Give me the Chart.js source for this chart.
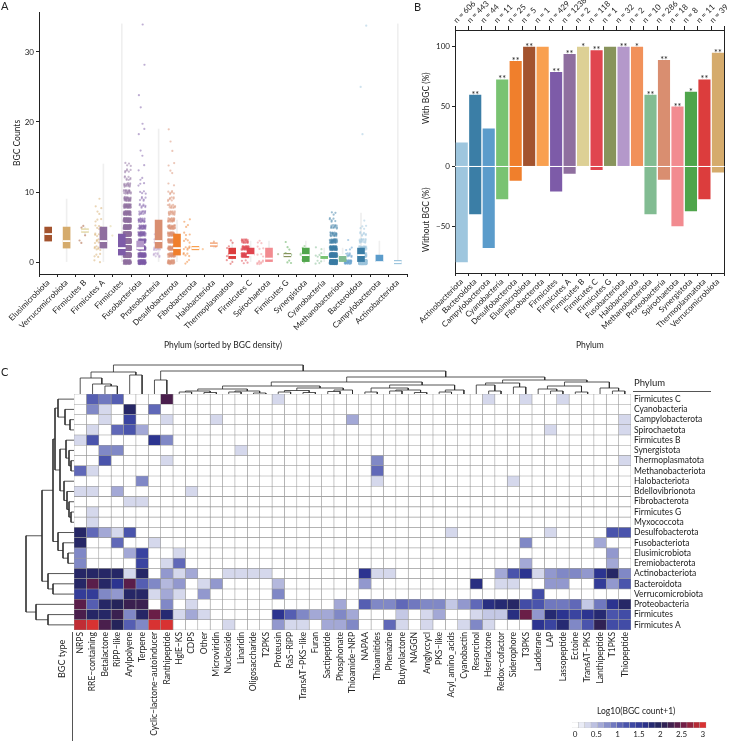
<!DOCTYPE html>
<html>
<head>
<meta charset="utf-8">
<script src="https://cdn.jsdelivr.net/npm/chart.js@4.4.1/dist/chart.umd.min.js"></script>
<style>
body{margin:0;background:#fff;}
#fig{position:relative;width:735px;height:741px;overflow:hidden;font-family:Lato,sans-serif;color:#222;}
#fig canvas{position:absolute;}
.lbl{position:absolute;white-space:nowrap;line-height:1;}
</style>
</head>
<body>
<div id="fig">
  <canvas id="chartA" width="415" height="360" style="left:0;top:0"></canvas>
  <canvas id="chartB" width="320" height="360" style="left:415px;top:0"></canvas>
  <canvas id="colDendro" width="557" height="34" style="left:74px;top:361px"></canvas>
  <canvas id="rowDendro" width="56" height="236" style="left:20px;top:394px"></canvas>
  <canvas id="heat" width="735" height="356" style="left:0;top:385px"></canvas>
  <canvas id="heatLegend" width="150" height="25" style="left:565px;top:716px"></canvas>

  <div class="lbl" style="left:1px;top:0;font-size:11px">A</div>
  <div class="lbl" style="left:414px;top:1px;font-size:11px">B</div>
  <div class="lbl" style="left:1px;top:366px;font-size:11px">C</div>
  <div class="lbl" style="left:634px;top:378px;font-size:9.5px">Phylum</div>
  <div style="position:absolute;left:633px;top:391px;width:78px;border-top:1px solid #555"></div>
  <div class="lbl" style="left:57px;top:678px;font-size:9px;transform-origin:0 0;transform:rotate(-90deg)">BGC type</div>
  <div style="position:absolute;left:72px;top:632px;height:109px;border-left:1px solid #555"></div>
  <div class="lbl" style="left:597px;top:707px;font-size:8.5px">Log10(BGC count+1)</div>
</div>
<script>
// ---------- panel A: BGC counts per genome ----------
const phylaA = ['Elusimicrobiota', 'Verrucomicrobiota', 'Firmicutes B', 'Firmicutes A', 'Firmicutes',
  'Fusobacteriota', 'Proteobacteria', 'Desulfobacterota', 'Fibrobacterota', 'Halobacteriota',
  'Thermoplasmatota', 'Firmicutes C', 'Spirochaetota', 'Firmicutes G', 'Synergistota',
  'Cyanobacteria', 'Methanobacteriota', 'Bacteroidota', 'Campylobacterota', 'Actinobacteriota'];

// [BGC count, number of genomes] per phylum
const countFreqA = [
  [[3, 2], [4, 1], [5, 2]],
  [[0, 2], [1, 4], [2, 7], [3, 7], [4, 6], [5, 5], [6, 3], [7, 2], [8, 2], [9, 1]],
  [[4, 1], [5, 1]],
  [[0, 74], [1, 180], [2, 220], [3, 200], [4, 160], [5, 120], [6, 90], [7, 60], [8, 45], [9, 30], [10, 20], [11, 15], [12, 8], [13, 6], [14, 4]],
  [[0, 90], [1, 80], [2, 70], [3, 55], [4, 40], [5, 30], [6, 20], [7, 12], [8, 8], [9, 6], [10, 4], [11, 3], [12, 2], [13, 1], [14, 1], [15, 1], [16, 1], [18, 1], [19, 1], [20, 1], [22, 1], [24, 1], [28, 1], [34, 1]],
  [[1, 8], [2, 12], [3, 8], [4, 3], [5, 1]],
  [[0, 31], [1, 35], [2, 40], [3, 40], [4, 35], [5, 30], [6, 22], [7, 16], [8, 12], [9, 8], [10, 6], [11, 2], [13, 2], [14, 2], [16, 1], [17, 1], [19, 1]],
  [[0, 3], [1, 5], [2, 6], [3, 4], [4, 3], [5, 2], [6, 2]],
  [[2, 1]],
  [[2, 1], [3, 1]],
  [[0, 3], [1, 4], [2, 2], [3, 2]],
  [[0, 4], [1, 60], [2, 34], [3, 20]],
  [[0, 9], [1, 3], [2, 3], [3, 3]],
  [[1, 1]],
  [[0, 3], [1, 2], [2, 2], [3, 1]],
  [[0, 3], [1, 6], [2, 2]],
  [[0, 4], [1, 4], [2, 2]],
  [[0, 177], [1, 120], [2, 70], [3, 35], [4, 20], [5, 12], [6, 6], [7, 3]],
  [[0, 30], [1, 10], [2, 3], [3, 1]],
  [[0, 485], [1, 60], [2, 30], [3, 15], [4, 8], [5, 4], [6, 1], [18, 1], [25, 1], [34, 1]]
];
const ticksA = [0, 10, 20, 30];

// ---------- panel B: share of genomes with / without BGC ----------
const phylaB = ['Actinobacteriota', 'Bacteroidota', 'Campylobacterota', 'Cyanobacteria', 'Desulfobacterota',
  'Elusimicrobiota', 'Fibrobacterota', 'Firmicutes', 'Firmicutes A', 'Firmicutes B', 'Firmicutes C',
  'Firmicutes G', 'Fusobacteriota', 'Halobacteriota', 'Methanobacteriota', 'Proteobacteria',
  'Spirochaetota', 'Synergistota', 'Thermoplasmatota', 'Verrucomicrobiota'];
const genomesB = [606, 443, 44, 11, 25, 5, 1, 429, 1238, 2, 118, 1, 32, 2, 10, 286, 18, 8, 11, 39];
const withPct = [20, 60, 31.8, 72.7, 88, 100, 100, 79, 94, 100, 97, 100, 100, 100, 60, 89, 50, 62.5, 72.7, 94.9];
const withoutPct = [80, 40, 68.2, 27.3, 12, 0, 0, 21, 6, 0, 3, 0, 0, 0, 40, 11, 50, 37.5, 27.3, 5.1];
const starsB = ['', '**', '', '**', '**', '**', '', '**', '**', '*', '**', '', '**', '*', '**', '**', '**', '*', '**', '**'];
const ticksB = [-50, 0, 50, 100];

const phylumColor = {
  'Actinobacteriota': '#9ec6de', 'Bacteroidota': '#3b7ea6', 'Campylobacterota': '#5b9ccb',
  'Cyanobacteria': '#79c372', 'Desulfobacterota': '#f07f2c', 'Elusimicrobiota': '#a3532e',
  'Fibrobacterota': '#f9a050', 'Firmicutes': '#7d5ba8', 'Firmicutes A': '#8f6f9f',
  'Firmicutes B': '#ddd095', 'Firmicutes C': '#e0454f', 'Firmicutes G': '#88945c',
  'Fusobacteriota': '#b498ca', 'Halobacteriota': '#f1915a', 'Methanobacteriota': '#82bc92',
  'Proteobacteria': '#d98e70', 'Spirochaetota': '#f28b90', 'Synergistota': '#4fa54b',
  'Thermoplasmatota': '#dc3d3d', 'Verrucomicrobiota': '#d5ab6c'
};

// ---------- panel C: heatmap log10(BGC count + 1) ----------
const heatRows = ['Firmicutes C', 'Cyanobacteria', 'Campylobacterota', 'Spirochaetota', 'Firmicutes B',
  'Synergistota', 'Thermoplasmatota', 'Methanobacteriota', 'Halobacteriota', 'Bdellovibrionota',
  'Fibrobacterota', 'Firmicutes G', 'Myxococcota', 'Desulfobacterota', 'Fusobacteriota',
  'Elusimicrobiota', 'Eremiobacterota', 'Actinobacteriota', 'Bacteroidota', 'Verrucomicrobiota',
  'Proteobacteria', 'Firmicutes', 'Firmicutes A'];
const bgcTypes = ['NRPS', 'RRE−containing', 'Betalactone', 'RiPP−like', 'Arylpolyene', 'Terpene',
  'Cyclic−lactone−autoinducer', 'Ranthipeptide', 'HglE−KS', 'CDPS', 'Other', 'Microviridin',
  'Nucleoside', 'Linaridin', 'Oligosaccharide', 'T2PKS', 'Proteusin', 'RaS−RiPP', 'TransAT−PKS−like',
  'Furan', 'Sactipeptide', 'Phosphonate', 'Thioamide−NRP', 'NAPAA', 'Thioamitides', 'Phenazine',
  'Butyrolactone', 'NAGGN', 'Amglyccycl', 'PKS−like', 'Acyl_amino_acids', 'Cyanobactin', 'Resorcinol',
  'Hserlactone', 'Redox−cofactor', 'Siderophore', 'T3PKS', 'Ladderane', 'LAP', 'Lassopeptide',
  'Ectoine', 'TransAT−PKS', 'Lanthipeptide', 'T1PKS', 'Thiopeptide'];
const heatValues = [
  [0,1.1,.9,1.1,0, 0,0,2.3,0,0, 0,0,0,0,0, 0,.3,0,0,0, 0,0,0,0,0, 0,0,0,0,0, 0,0,0,.3,0, 0,.3,0,0,.3, 0,0,0,0,0],
  [0,.8,.3,0,1.9, 0,1,0,0,0, 0,0,0,0,0, 0,0,0,0,0, 0,0,0,0,0, 0,0,0,0,0, 0,0,0,0,0, 0,0,0,0,0, 0,0,0,0,0],
  [0,0,.3,0,1.4, 0,0,.3,0,0, 0,.3,0,0,0, 0,0,0,0,0, 0,0,.6,0,0, 0,0,0,0,0, 0,0,0,0,0, 0,0,0,0,0, 0,0,0,0,.3],
  [0,.3,0,1,1.2, .6,0,0,0,0, 0,0,0,0,0, 0,0,0,0,0, 0,0,0,0,0, 0,0,0,0,0, 0,0,0,0,0, 0,0,0,.3,0, 0,0,0,0,.3],
  [.3,1.2,0,0,0, 0,1.6,.8,0,0, 0,0,0,0,0, 0,0,0,0,0, 0,0,0,0,0, 0,0,0,0,0, 0,0,0,0,0, 0,0,0,0,0, 0,0,0,0,0],
  [0,0,.8,.8,0, 0,0,0,0,0, 0,0,0,.3,0, 0,0,0,0,0, 0,0,0,0,0, 0,0,0,0,0, 0,0,0,0,0, 0,0,0,0,0, 0,0,0,0,0],
  [0,0,1.2,0,0, 0,0,.3,0,0, 0,0,0,0,0, 0,0,0,0,0, 0,0,0,0,.8, 0,0,0,0,0, 0,0,0,0,0, 0,0,0,0,0, 0,0,0,0,.3],
  [1,.3,0,0,0, 0,0,0,0,0, 0,0,0,0,0, 0,0,0,0,0, 0,0,0,0,1, 0,0,0,0,0, 0,0,0,0,0, 0,0,0,0,0, 0,0,0,0,0],
  [0,0,0,0,0, .8,0,0,0,0, 0,0,0,0,0, 0,0,0,0,0, 0,0,0,0,.3, 0,0,0,0,0, 0,0,0,0,0, .3,0,0,0,0, 0,0,0,0,0],
  [.3,.3,0,.6,0, 0,0,0,0,.3, 0,0,0,0,0, 0,0,0,0,0, 0,0,0,0,0, 0,0,0,0,0, 0,0,0,0,0, 0,0,0,0,0, 0,0,0,0,0],
  [0,0,0,0,.3, .3,0,0,0,0, 0,0,0,0,0, 0,0,0,0,0, 0,0,0,0,0, 0,0,0,0,0, 0,0,0,0,0, 0,0,0,0,0, 0,0,0,0,0],
  [0,.3,0,0,0, 0,0,0,0,0, 0,0,0,0,0, 0,0,0,0,0, 0,0,0,0,0, 0,0,0,0,0, 0,0,0,0,0, 0,0,0,0,0, 0,0,0,0,0],
  [0,.3,0,0,0, 0,0,0,0,0, 0,0,0,0,0, 0,0,0,0,0, 0,0,0,0,0, 0,0,0,0,0, 0,0,0,0,0, 0,0,0,0,0, 0,0,0,0,0],
  [1.9,1,.6,.3,1.2, 0,0,0,0,0, 0,0,0,0,0, 0,0,0,0,0, 0,0,0,0,0, 0,0,0,0,0, .3,0,0,0,0, 0,0,0,.3,0, 0,0,0,1.2,1.2],
  [1.9,0,0,1,0, 0,.3,0,0,0, 0,0,0,0,0, 0,0,0,0,0, 0,0,0,0,0, 0,0,0,0,0, 0,0,0,0,0, 0,.8,0,0,0, 0,0,.6,0,0],
  [.8,0,0,0,.6, 1.4,0,0,.3,0, 0,0,0,0,0, 0,0,0,0,0, 0,0,0,0,0, 0,0,0,0,0, 0,0,0,0,0, 0,0,0,0,0, 0,0,0,.7,0],
  [.8,0,0,0,0, 1.4,0,.3,1,0, 0,0,0,0,0, 0,0,0,0,0, 0,0,0,0,0, 0,0,0,0,0, 0,0,0,0,0, 0,.6,0,0,0, 0,0,0,.6,0],
  [1.9,1.9,1.9,1.9,.3, 1.9,0,.7,.3,.6, 0,0,.3,.3,.3, .3,0,0,0,0, 0,0,0,1.6,.3, .3,0,0,0,0, 0,0,0,0,.6, 1.2,1.6,.3,.7,.8, .8,.7,1.6,1.9,.8],
  [1.9,2.4,1.9,1.6,2.4, 1.1,.8,.5,.7,0, .3,.7,0,0,0, 0,.5,0,0,0, 0,0,0,.7,0, 0,0,0,0,0, 0,0,1.7,0,.3, .3,0,0,.7,.7, 0,0,1.5,.7,1.2],
  [1.5,1.5,.8,.7,1.9, 1.9,.3,.6,.3,0, .7,0,0,0,0, 0,.8,0,0,0, 0,0,0,0,0, 0,0,0,0,0, 0,0,0,0,0, 0,0,1.3,0,0, 0,0,0,0,0],
  [2.4,1.1,1.9,2,2.2, 2.2,0,.8,0,.3, 0,0,0,0,0, 0,0,0,0,0, 0,.6,0,1.1,.8, .8,1,.9,.8,.8, .4,.7,1,1.7,1.8, 1.9,1.3,1.2,.9,.9, 1,.4,.9,1.6,1.9],
  [2.3,1.9,1.9,2.2,.8, 1.9,2.5,1.8,.3,.6, .3,0,0,0,0, 0,1.6,1.1,.8,.6, .6,.8,.6,0,0, 0,.4,0,.3,.6, 0,0,.3,.4,.4, 1.7,2.5,.7,1.8,1.6, 1.4,1.6,1.8,1.2,1.3],
  [2.9,3,2.3,2,1.1, .8,3,3,0,0, 0,0,.3,0,0, 0,.7,.3,.3,0, .6,.6,.8,0,0, 1,.3,0,.3,0, 0,.3,.8,.3,0, 0,0,1.6,1.4,1.8, .8,1.2,2.1,1.3,1.3]
];

// dendrograms: [merge height, left, right], leaves are row / column indexes
const rowTree =
  [48,
    [32,
      [21,
        [19,
          [16, 0, [9, 1, [4, 2, 3]]],
          [14, [8, 4, [5, 5, [3, 6, 7]]], [10, 8, [7, 9, [5, 10, [3, 11, 12]]]]]],
        [16, 13, [11, 14, [6, 15, 16]]]],
      [26, 17, [21, 18, 19]]],
    [38, 20, [26, 21, 22]]];
const colTree =
  [29,
    [22, [16, 0, [10, 1, [8, 2, 3]]], [19, 4, 5]],
    [23,
      [14, 6, 7],
      [17,
        [12,
          [8, [5, [3, [2, 8, 9], [1.5, 10, 11]], [3, [2, 12, 13], [1, 14, 15]]],
              [6, [3.5, [2, 16, 17], [1.5, 18, 19]], [4, [2.5, 20, 21], 22]]],
          [9, [6, [2, 23, 24], [4, [3, 25, 26], [1.5, 27, 28]]], [4, [2, 29, 30], 31]]],
        [14,
          [11, [9, 32, [3, 33, 34]], [7, 35, 36]],
          [12, [8, [5, 37, [3, 38, 39]], [2, 40, 41]], [6, 42, [3, 43, 44]]]]]]];

const heatStops = [
  [0, '#ffffff'], [0.3, '#d5d8ec'], [0.6, '#a3a8d6'], [0.8, '#8088c6'], [1.0, '#6068b8'],
  [1.2, '#4a54ac'], [1.4, '#3a44a0'], [1.6, '#2c3490'], [1.8, '#262a72'], [2.0, '#25245a'],
  [2.2, '#3a2050'], [2.4, '#5a1e4a'], [2.6, '#7a1e44'], [2.8, '#a82838'], [3.0, '#d83232']
];
const legendSteps = [0, 0.15, 0.3, 0.45, 0.6, 0.75, 0.9, 1.05, 1.2, 1.35, 1.5, 1.65, 1.8, 1.95, 2.1, 2.25, 2.4, 2.55, 2.7, 2.85, 3.0];
const legendTicks = [0, 0.5, 1, 1.5, 2, 2.5, 3];

Chart.defaults.font.family = 'Lato, sans-serif';
Chart.defaults.font.size = 8;
Chart.defaults.color = '#222';
Chart.defaults.animation = false;
Chart.defaults.events = [];
Chart.defaults.plugins.legend.display = false;
Chart.defaults.plugins.tooltip.enabled = false;

function hexA(hex, a) {
  const n = parseInt(hex.slice(1), 16);
  return `rgba(${n >> 16}, ${(n >> 8) & 255}, ${n & 255}, ${a})`;
}

function heatColor(v) {
  for (let i = 1; i < heatStops.length; i++) {
    if (v <= heatStops[i][0]) {
      const [v0, c0] = heatStops[i - 1], [v1, c1] = heatStops[i];
      const t = (v - v0) / (v1 - v0);
      const a = parseInt(c0.slice(1), 16), b = parseInt(c1.slice(1), 16);
      const mix = s => Math.round(((a >> s) & 255) * (1 - t) + ((b >> s) & 255) * t);
      return `rgb(${mix(16)}, ${mix(8)}, ${mix(0)})`;
    }
  }
  return heatStops[heatStops.length - 1][1];
}

function quantile(sorted, p) {
  const pos = (sorted.length - 1) * p;
  const lo = Math.floor(pos), hi = Math.ceil(pos);
  return sorted[lo] + (sorted[hi] - sorted[lo]) * (pos - lo);
}

// ---- panel A ----
var boxStats = countFreqA.map(freq => {
  var vals = [];
  freq.forEach(([v, k]) => { for (var j = 0; j < k; j++) vals.push(v); });
  vals.sort((a, b) => a - b);
  var s = {min: vals[0], max: vals[vals.length - 1], q1: quantile(vals, .25), med: quantile(vals, .5), q3: quantile(vals, .75)};
  if (s.q3 - s.q1 < 0.5) { s.q1 = s.med - 0.25; s.q3 = s.med + 0.25; }
  return s;
});

// jitter: R2 low-discrepancy sequence, so the cloud has no stripes
var seq = 0;
var pointSets = phylaA.map((p, i) => {
  var pts = [];
  countFreqA[i].forEach(([v, k]) => {
    for (var j = 0; j < k; j++) {
      seq++;
      var u = (0.5 + seq * 0.7548776662) % 1, w = (0.5 + seq * 0.5698402910) % 1;
      pts.push({x: i + (u - 0.5) * 0.5, y: v + (w - 0.5) * 0.6});
    }
  });
  return {type: 'scatter', xAxisID: 'xs', data: pts, backgroundColor: hexA(phylumColor[p], 0.5),
    pointRadius: 1.1, borderWidth: 0, order: 3};
});

var axisGrid = {display: true, drawOnChartArea: false, drawTicks: true, tickLength: 3, color: '#222'};
var axisBorder = {display: true, color: '#222', width: 1};

new Chart(document.getElementById('chartA'), {
  type: 'bar',
  data: {
    labels: phylaA,
    datasets: [
      {data: boxStats.map(s => [s.min, s.max]), backgroundColor: '#efefef', barThickness: 1, grouped: false, order: 4},
      ...pointSets,
      {data: boxStats.map(s => [s.q1, s.q3]), backgroundColor: phylaA.map(p => phylumColor[p]), barThickness: 7, grouped: false, order: 2},
      {data: boxStats.map(s => [s.med - 0.08, s.med + 0.08]), backgroundColor: '#fff', barThickness: 7, grouped: false, order: 1}
    ]
  },
  options: {
    responsive: false, devicePixelRatio: 1,
    layout: {padding: {top: 12, right: 8, left: 0, bottom: 0}},
    scales: {
      x: {
        type: 'category', offset: true, grid: axisGrid, border: axisBorder,
        ticks: {autoSkip: false, minRotation: 45, maxRotation: 45, padding: 1},
        title: {display: true, text: 'Phylum (sorted by BGC density)', font: {size: 8.5}, padding: {top: 0, bottom: 10}},
        afterFit: s => { s.height = 86; }
      },
      xs: {type: 'linear', display: false, min: -0.5, max: 19.5},
      y: {
        type: 'linear', min: -1.7, max: 35.7, grid: axisGrid, border: axisBorder,
        afterBuildTicks: s => { s.ticks = ticksA.map(v => ({value: v})); },
        ticks: {padding: 2},
        title: {display: true, text: 'BGC Counts', font: {size: 8.5}, padding: {top: 12, bottom: 0}},
        afterFit: s => { s.width = 39; }
      }
    }
  }
});

// ---- panel B ----
var colorsB = phylaB.map(p => phylumColor[p]);
var panelBDecor = {
  id: 'panelBDecor',
  afterDatasetsDraw(chart) {
    var {ctx, chartArea, scales: {y}} = chart;
    var y0 = y.getPixelForValue(0);
    ctx.save();
    ctx.strokeStyle = '#fff';
    ctx.lineWidth = 1;
    ctx.beginPath();
    ctx.moveTo(chartArea.left, y0);
    ctx.lineTo(chartArea.right, y0);
    ctx.stroke();
    ctx.fillStyle = '#222';
    ctx.font = '9px Lato, sans-serif';
    ctx.textAlign = 'center';
    ctx.textBaseline = 'alphabetic';
    chart.getDatasetMeta(0).data.forEach((bar, i) => {
      if (starsB[i]) ctx.fillText(starsB[i], bar.x, bar.y + 3);
    });
    ctx.font = '8.5px Lato, sans-serif';
    ctx.textBaseline = 'middle';
    [['With BGC (%)', (chartArea.top + y0) / 2], ['Without BGC (%)', (y0 + chartArea.bottom) / 2]].forEach(([t, cy]) => {
      ctx.save();
      ctx.translate(11, cy);
      ctx.rotate(-Math.PI / 2);
      ctx.fillText(t, 0, 0);
      ctx.restore();
    });
    ctx.restore();
  }
};

new Chart(document.getElementById('chartB'), {
  type: 'bar',
  data: {
    labels: phylaB,
    datasets: [
      {data: withPct, backgroundColor: colorsB, barPercentage: 0.9, categoryPercentage: 1},
      {data: withoutPct.map(v => -v), backgroundColor: colorsB, barPercentage: 0.9, categoryPercentage: 1}
    ]
  },
  options: {
    responsive: false, devicePixelRatio: 1,
    layout: {padding: 0},
    scales: {
      x: {
        stacked: true, grid: axisGrid, border: axisBorder,
        ticks: {autoSkip: false, minRotation: 45, maxRotation: 45, padding: 1},
        title: {display: true, text: 'Phylum', font: {size: 8.5}, padding: {top: 0, bottom: 10}},
        afterFit: s => { s.height = 87; }
      },
      x2: {
        type: 'category', labels: genomesB.map(n => 'n = ' + n), position: 'top', offset: true,
        grid: {display: true, drawOnChartArea: false, drawTicks: true, tickLength: 4, color: '#222'}, border: axisBorder,
        ticks: {autoSkip: false, minRotation: 45, maxRotation: 45, padding: 1},
        afterFit: s => { s.height = 30; }
      },
      y: {
        stacked: true, min: -89, max: 114, grid: axisGrid, border: axisBorder,
        afterBuildTicks: s => { s.ticks = ticksB.map(v => ({value: v})); },
        ticks: {padding: 2, callback: v => v < 0 ? '−' + Math.abs(v) : String(v)},
        afterFit: s => { s.width = 40; }
      },
      y2: {
        position: 'right', display: true, ticks: {display: false},
        grid: {display: false}, border: axisBorder,
        afterFit: s => { s.width = 7; }
      }
    }
  },
  plugins: [panelBDecor]
});

// ---- panel C: dendrograms ----
function treeSegments(node, out) {
  if (typeof node === 'number') return {pos: node + 0.5, h: 0};
  var [h, l, r] = node;
  var a = treeSegments(l, out), b = treeSegments(r, out);
  out.push([[a.pos, a.h], [a.pos, h], [b.pos, h], [b.pos, b.h]]);
  return {pos: (a.pos + b.pos) / 2, h: h};
}

function dendroChart(id, tree, vertical) {
  var segs = [];
  treeSegments(tree, segs);
  var datasets = segs.map(s => ({
    data: s.map(([p, h]) => vertical ? {x: p, y: h} : {x: h, y: p}),
    showLine: true, pointRadius: 0, borderColor: '#2a2a2a', borderWidth: 0.8, clip: false
  }));
  var scales = vertical
    ? {x: {type: 'linear', display: false, min: 0, max: 45}, y: {type: 'linear', display: false, min: -1, max: 33}}
    : {x: {type: 'linear', display: false, min: -2, max: 54, reverse: true}, y: {type: 'linear', display: false, min: 0, max: 23, reverse: true}};
  new Chart(document.getElementById(id), {
    type: 'scatter',
    data: {datasets: datasets},
    options: {responsive: false, devicePixelRatio: 1, layout: {padding: 0}, scales: scales}
  });
}
dendroChart('colDendro', colTree, true);
dendroChart('rowDendro', rowTree, false);

// ---- panel C: heatmap ----
new Chart(document.getElementById('heat'), {
  type: 'bar',
  data: {
    labels: heatRows,
    datasets: bgcTypes.map((t, c) => ({
      data: heatRows.map(() => [c, c + 1]),
      backgroundColor: heatRows.map((_, r) => heatColor(heatValues[r][c])),
      borderColor: '#9a9a9a', borderWidth: 0.6, borderSkipped: false,
      barPercentage: 1, categoryPercentage: 1, grouped: false
    }))
  },
  options: {
    indexAxis: 'y', responsive: false, devicePixelRatio: 1,
    layout: {padding: {left: 74, top: 9, right: 0, bottom: 0}},
    scales: {
      x: {
        type: 'linear', min: 0, max: 45,
        afterBuildTicks: s => { s.ticks = bgcTypes.map((_, i) => ({value: i + 0.5})); },
        ticks: {autoSkip: false, minRotation: 90, maxRotation: 90, padding: 2, font: {size: 8.5}, callback: (v, i) => bgcTypes[i]},
        grid: {display: false, drawTicks: false}, border: {display: false},
        afterFit: s => { s.height = 111; }
      },
      y: {
        position: 'right', grid: {display: false, drawTicks: false}, border: {display: false},
        ticks: {autoSkip: false, padding: 3, font: {size: 8.5}},
        afterFit: s => { s.width = 104; }
      }
    }
  }
});

// ---- panel C: colour key ----
new Chart(document.getElementById('heatLegend'), {
  type: 'bar',
  data: {
    labels: [''],
    datasets: legendSteps.map(v => ({
      data: [[v - 0.075, v + 0.075]], backgroundColor: heatColor(v),
      borderColor: '#bdbdbd', borderWidth: 0.5, borderSkipped: false,
      barPercentage: 1, categoryPercentage: 1, grouped: false
    }))
  },
  options: {
    indexAxis: 'y', responsive: false, devicePixelRatio: 1,
    layout: {padding: {left: 7, right: 7, top: 6, bottom: 0}},
    scales: {
      x: {
        type: 'linear', min: -0.07, max: 3.12,
        afterBuildTicks: s => { s.ticks = legendTicks.map(v => ({value: v})); },
        ticks: {padding: 2, callback: v => String(v)},
        grid: {display: false, drawTicks: false}, border: {display: false},
        afterFit: s => { s.height = 13; }
      },
      y: {display: false}
    }
  }
});
</script>
</body>
</html>
